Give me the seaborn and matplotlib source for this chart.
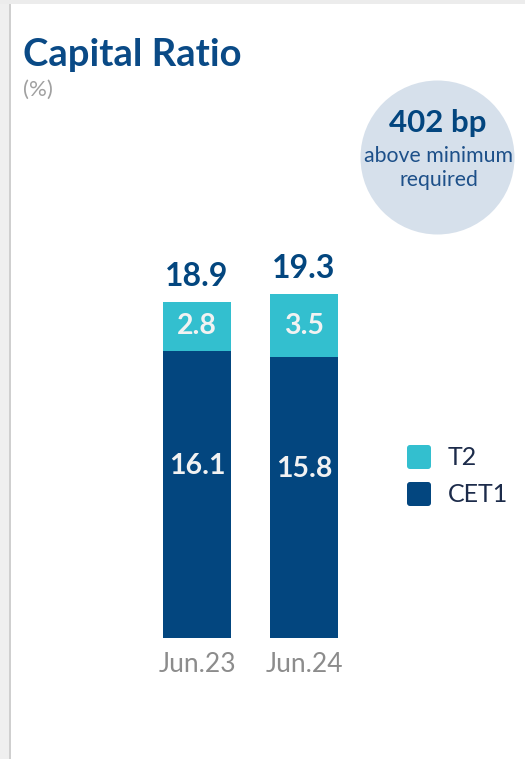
import matplotlib
matplotlib.use('Agg')
import matplotlib.pyplot as plt
import seaborn as sns
import pandas as pd
from matplotlib.patches import FancyBboxPatch, Rectangle, Circle

# ---- data ----
periods = ['Jun.23', 'Jun.24']
cet1 = [16.1, 15.8]
t2 = [2.8, 3.5]
totals = [18.9, 19.3]
legend_labels = ['T2', 'CET1']
title = 'Capital Ratio'
unit = '(%)'
badge_value = '402 bp'
badge_text = ['above minimum', 'required']

NAVY = '#03467f'
TEAL = '#33bfcf'
CIRCLE = '#d6e0eb'
GREY = '#8c8c8c'

sns.set_theme(style='white')
plt.rcParams['font.family'] = ['Lato', 'DejaVu Sans']

W, H = 525, 759
fig = plt.figure(figsize=(W / 100, H / 100), dpi=100)
fig.patch.set_facecolor('white')

def fx(x):
    return x / W

def fy(y):
    return 1 - y / H

# card shadow edges
fig.patches.append(Rectangle((0, 0), fx(10), 1, transform=fig.transFigure,
                             facecolor='#efefef', edgecolor='none', zorder=0))
fig.patches.append(Rectangle((fx(9), 0), fx(2), 1, transform=fig.transFigure,
                             facecolor='#cfcfcf', edgecolor='none', zorder=0))
fig.patches.append(Rectangle((0, fy(4)), 1, 4 / H, transform=fig.transFigure,
                             facecolor='#ececec', edgecolor='none', zorder=0))

df = pd.DataFrame({'period': periods, 'cet1': cet1, 't2': t2, 'total': totals})

bottom_px = 638
px_per_unit = 17.8
ymax = 20
ax_h = px_per_unit * ymax
ax = fig.add_axes([fx(143.5), fy(bottom_px), 214 / W, ax_h / H])
ax.set_facecolor('none')

sns.barplot(data=df, x='period', y='total', color=TEAL, saturation=1,
            width=0.636, ax=ax, errorbar=None, linewidth=0)
sns.barplot(data=df, x='period', y='cet1', color=NAVY, saturation=1,
            width=0.636, ax=ax, errorbar=None, linewidth=0)
ax.set_xlim(-0.5, 1.5)
ax.set_ylim(0, ymax)

for i, (c, t, tot) in enumerate(zip(cet1, t2, totals)):
    ax.annotate(f'{tot}', xy=(i, tot), xytext=(0, 11), textcoords='offset pixels',
                ha='center', va='bottom', fontsize=23, fontweight='bold', color=NAVY)
    ax.text(i, c + t / 2, f'{t}', ha='center', va='center', fontsize=20.5,
            fontweight='bold', color='#f2f2f2')
    ax.text(i, c * 0.6, f'{c}', ha='center', va='center', fontsize=20.5,
            fontweight='bold', color='#f2f2f2')

ax.set_xlabel('')
ax.set_ylabel('')
ax.set_yticks([])
ax.tick_params(axis='x', length=0, pad=10, labelsize=19, labelcolor=GREY)
for s in ax.spines.values():
    s.set_visible(False)

# title
fig.text(fx(23), fy(66), title, fontsize=27.5, fontweight='bold', color='#0a4a86',
         ha='left', va='baseline')
fig.text(fx(23), fy(90), unit, fontsize=16, color='#a0a0a0', ha='left', va='center')

# badge circle
fig.patches.append(Circle((437.5 / 100, (H - 157.5) / 100), 0.77,
                          transform=fig.dpi_scale_trans, facecolor=CIRCLE,
                          edgecolor='none', zorder=1))
fig.text(fx(438), fy(123), badge_value, fontsize=22.5, fontweight='bold', color=NAVY,
         ha='center', va='center', zorder=2)
fig.text(fx(439), fy(156), badge_text[0], fontsize=15.3, color='#1d5089',
         ha='center', va='center', zorder=2)
fig.text(fx(439), fy(180), badge_text[1], fontsize=15.3, color='#1d5089',
         ha='center', va='center', zorder=2)

# legend
for (lab, col, ytop) in zip(legend_labels, [TEAL, NAVY], [445, 482]):
    fig.patches.append(FancyBboxPatch((fx(407 + 3), fy(ytop + 24 - 3)), (24 - 6) / W,
                                      (24 - 6) / H,
                                      boxstyle=f'round,pad={3 / W}',
                                      transform=fig.transFigure, facecolor=col,
                                      edgecolor='none', mutation_aspect=W / H))
    fig.text(fx(448), fy(ytop + 12), lab, fontsize=18, color='#1c2b4a',
             ha='left', va='center')

fig.savefig('out.png', dpi=100)
